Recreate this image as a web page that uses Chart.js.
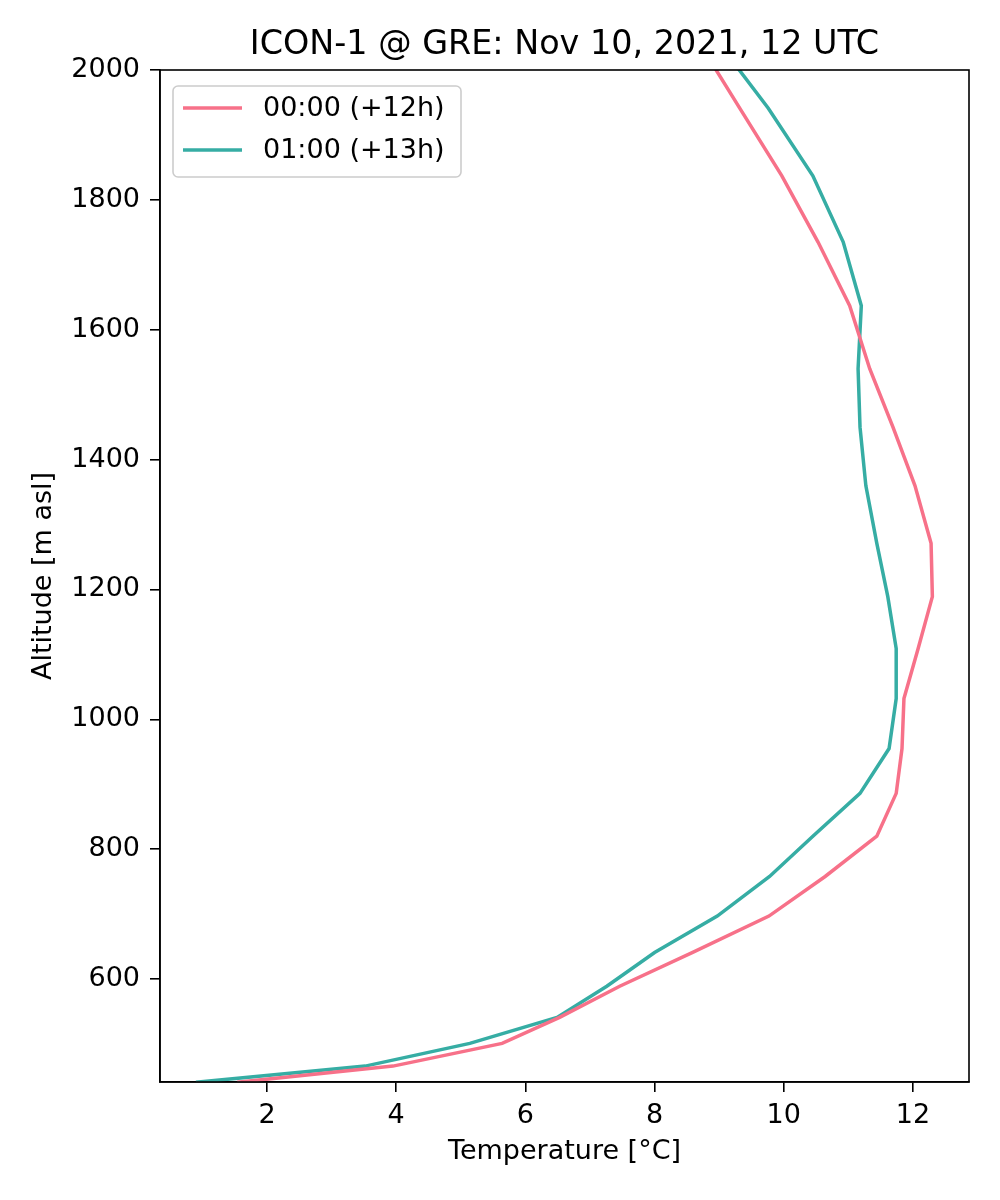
<!DOCTYPE html>
<html>
<head>
<meta charset="utf-8">
<script src="https://cdn.jsdelivr.net/npm/chart.js@4.4.0/dist/chart.umd.min.js"></script>
<style>
body { margin: 0; background: #ffffff; }
#box { width: 1000px; height: 1200px; }
</style>
</head>
<body>
<div id="box"><canvas id="chart" width="1000" height="1200"></canvas></div>
<script>
// ----------------------------------------------------------------------
//	temperature profile, two forecast hours
// ----------------------------------------------------------------------
const title_text = "ICON-1 @ GRE: Nov 10, 2021, 12 UTC"
const label_aa = "00:00 (+12h)"
const label_bb = "01:00 (+13h)"

const altitude = [441, 466, 501, 541, 589, 641, 697, 758, 820, 886, 955, 1032,
	1109, 1189, 1271, 1360, 1450, 1540, 1637, 1735, 1837, 1941, 2050]

const temp_aa = [1.54, 3.95, 5.64, 6.53, 7.46, 8.59, 9.77, 10.64, 11.44, 11.74, 11.83, 11.86,
	12.08, 12.30, 12.28, 12.03, 11.69, 11.33, 11.02, 10.53, 9.97, 9.32, 8.64]

const temp_bb = [0.90, 3.52, 5.14, 6.49, 7.26, 8.00, 8.97, 9.78, 10.45, 11.18, 11.63, 11.74,
	11.74, 11.61, 11.44, 11.27, 11.18, 11.15, 11.20, 10.92, 10.45, 9.76, 8.93]

const x_ticks = [2, 4, 6, 8, 10, 12]
const y_ticks = [600, 800, 1000, 1200, 1400, 1600, 1800, 2000]

const color_aa = "#f77189"
const color_bb = "#36ada4"
const font_name = "'DejaVu Sans', sans-serif"

// ----------------------------------------------------------------------
function to_points (xx, yy)
{
	var points = []
	for (var it = 0; it < xx.length; it += 1)
		{
		points.push({x: xx[it], y: yy[it]})
		}
	return points
}

// ----------------------------------------------------------------------
const frame_plugin = {
	id: 'frame_plugin',
	afterDraw (chart)
	{
	const ctx = chart.ctx
	const area = chart.chartArea
	ctx.save()

	ctx.strokeStyle = "#000000"
	ctx.lineWidth = 1.6
	ctx.strokeRect (area.left, area.top, area.right - area.left, area.bottom - area.top)

	ctx.fillStyle = "#000000"
	ctx.font = "33.4px " + font_name
	ctx.textAlign = "center"
	ctx.textBaseline = "alphabetic"
	ctx.fillText (title_text, (area.left + area.right) / 2, 54)

	// legend box
	const bx = area.left + 13
	const by = area.top + 16
	const bw = 288
	const bh = 91
	ctx.beginPath ()
	ctx.roundRect (bx, by, bw, bh, 5)
	ctx.fillStyle = "rgba(255,255,255,0.8)"
	ctx.fill ()
	ctx.strokeStyle = "#cccccc"
	ctx.lineWidth = 1.6
	ctx.stroke ()

	const rows = [[label_aa, color_aa], [label_bb, color_bb]]
	ctx.font = "27px " + font_name
	ctx.textAlign = "left"
	ctx.textBaseline = "middle"
	for (var it = 0; it < rows.length; it += 1)
		{
		const yy = by + 22 + it * 42
		ctx.beginPath ()
		ctx.moveTo (bx + 10, yy)
		ctx.lineTo (bx + 69, yy)
		ctx.strokeStyle = rows[it][1]
		ctx.lineWidth = 3.5
		ctx.stroke ()
		ctx.fillStyle = "#000000"
		ctx.fillText (rows[it][0], bx + 90, yy + 1)
		}
	ctx.restore()
	}
}

// ----------------------------------------------------------------------
function prog01 ()
{
	const graph_data = {
		datasets: [
			{ label: label_aa, data: to_points (temp_aa, altitude),
			borderColor: color_aa, backgroundColor: color_aa,
			showLine: true, pointRadius: 0, borderWidth: 3.5, tension: 0 },
			{ label: label_bb, data: to_points (temp_bb, altitude),
			borderColor: color_bb, backgroundColor: color_bb,
			showLine: true, pointRadius: 0, borderWidth: 3.5, tension: 0 }
			]
		}

	const tick_font = { family: font_name, size: 27 }
	const plain_label = function (value) { return String (value) }

	const options = {
		responsive: false,
		animation: false,
		layout: { padding: { top: 70, right: 31, left: 0, bottom: 0 } },
		plugins: {
			legend: { display: false },
			tooltip: { enabled: false },
			title: { display: false }
			},
		scales: {
			x: {
				type: 'linear',
				min: 0.344,
				max: 12.867,
				afterBuildTicks: function (scale) {
					scale.ticks = x_ticks.map (function (vv) { return {value: vv} })
					},
				afterFit: function (scale) { scale.height = 118 },
				ticks: { color: "#000000", font: tick_font, padding: 8,
					maxRotation: 0, autoSkip: false, callback: plain_label },
				grid: { drawOnChartArea: false, drawTicks: true, tickLength: 10,
					color: "#000000", lineWidth: 1.6 },
				border: { display: true, color: "#000000", width: 1.6 },
				title: { display: true, text: "Temperature [°C]", color: "#000000",
					font: tick_font, padding: { top: 0, bottom: 32 } }
				},
			y: {
				type: 'linear',
				min: 441.5,
				max: 2000,
				afterBuildTicks: function (scale) {
					scale.ticks = y_ticks.map (function (vv) { return {value: vv} })
					},
				afterFit: function (scale) { scale.width = 160 },
				ticks: { color: "#000000", font: tick_font, padding: 10,
					autoSkip: false, callback: plain_label },
				grid: { drawOnChartArea: false, drawTicks: true, tickLength: 10,
					color: "#000000", lineWidth: 1.6 },
				border: { display: true, color: "#000000", width: 1.6 },
				title: { display: true, text: "Altitude [m asl]", color: "#000000",
					font: tick_font, padding: { top: 28, bottom: 0 } }
				}
			}
		}

	const config = {
		type: 'scatter',
		data: graph_data,
		options: options,
		plugins: [frame_plugin]
		}

	const context = document.getElementById ("chart")
	const chart = new Chart (context, config)
}

prog01 ()
// ----------------------------------------------------------------------
</script>
</body>
</html>
